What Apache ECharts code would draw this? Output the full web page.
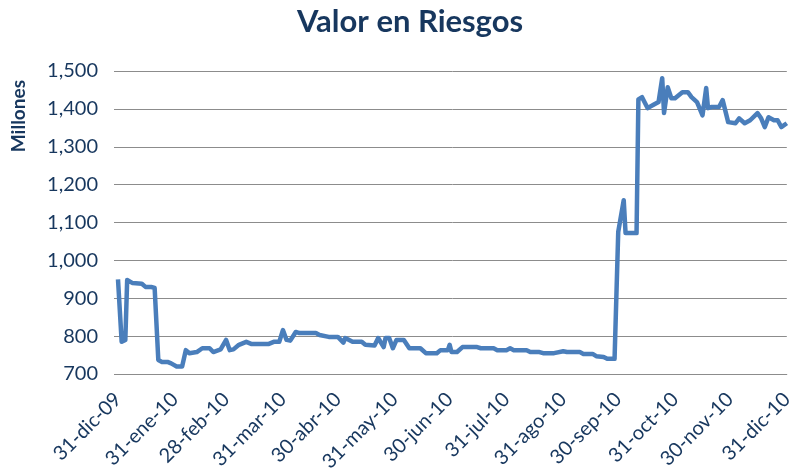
<!DOCTYPE html>
<html>
<head>
<meta charset="utf-8">
<script src="https://cdn.jsdelivr.net/npm/echarts@6/dist/echarts.min.js"></script>
<style>
  html, body { margin: 0; padding: 0; background: #fff; }
  #chart { width: 796px; height: 476px; }
</style>
</head>
<body>
<div id="chart"></div>
<script>
// día (desde 31-dic-09) y valor en millones
const dias = [0, 2, 4, 5, 8, 13, 15, 18, 20, 21, 22, 24, 27, 29, 32, 35, 37, 39, 43, 46,
  50, 52, 56, 59, 61, 63, 66, 70, 71, 73, 77, 80, 82, 85, 88, 90, 92, 94, 97, 99,
  108, 110, 115, 120, 123, 124, 128, 133, 135, 140, 142, 145, 146, 148, 150, 152, 156, 159, 165, 168,
  174, 176, 180, 181, 182, 185, 188, 196, 198, 205, 207, 212, 214, 216, 223, 225, 230, 232, 238, 239,
  243, 245, 252, 254, 259, 261, 265, 267, 271, 273, 274, 276, 277, 283, 284, 286, 289, 292, 295, 297,
  298, 300, 302, 304, 308, 311, 313, 316, 319, 321, 322, 324, 328, 330, 333, 337, 339, 342, 345, 349,
  351, 353, 355, 358, 360, 362, 365];
const valores = [950, 785, 790, 948, 940, 938, 930, 930, 927, 925, 737, 732, 732, 728, 720, 720, 763, 755, 758, 768,
  768, 758, 765, 790, 763, 765, 777, 785, 785, 779, 779, 779, 779, 785, 785, 816, 790, 788, 811, 808,
  808, 803, 798, 798, 783, 795, 785, 785, 777, 775, 795, 771, 795, 795, 768, 790, 790, 768, 768, 755,
  755, 763, 763, 777, 758, 758, 771, 771, 768, 768, 763, 763, 768, 763, 763, 758, 758, 755, 755, 750,
  760, 758, 758, 753, 753, 747, 745, 740, 740, 1075, 1080, 1159, 1072, 1072, 1425, 1431, 1402, 1410, 1418, 1481,
  1389, 1457, 1428, 1428, 1444, 1444, 1431, 1418, 1383, 1455, 1402, 1405, 1405, 1423, 1365, 1362, 1375, 1362, 1370, 1389,
  1375, 1352, 1378, 1370, 1370, 1352, 1362];
const meses = ['ene', 'feb', 'mar', 'abr', 'may', 'jun', 'jul', 'ago', 'sep', 'oct', 'nov', 'dic'];
const yMin = 700, yMax = 1500, yPaso = 100;

// categorías: un día cada una, del 31-dic-09 al 31-dic-10
const inicio = Date.UTC(2009, 11, 31);
const categorias = [];
const finDeMes = [];
for (let i = 0; i <= 365; i++) {
  const d = new Date(inicio + i * 86400000);
  const sig = new Date(inicio + (i + 1) * 86400000);
  categorias.push(d.getUTCDate() + '-' + meses[d.getUTCMonth()] + '-' + String(d.getUTCFullYear() % 100).padStart(2, '0'));
  finDeMes.push(sig.getUTCDate() === 1);
}
const serie = dias.map((d, i) => [d, valores[i]]);

const myChart = echarts.init(document.getElementById('chart'));
const azul = '#17375e';
const option = {
  backgroundColor: '#fff',
  title: {
    text: 'Valor en Riesgos',
    left: 405, top: 1, textAlign: 'center',
    textStyle: { fontFamily: 'Lato', fontWeight: 'bold', fontSize: 31, color: azul }
  },
  graphic: [{
    type: 'text',
    left: 9, top: 80,
    rotation: Math.PI / 2,
    style: { text: 'Millones', fontFamily: 'Lato', fontWeight: 'bold', fontSize: 19, fill: azul }
  }],
  grid: { left: 118, right: 4, top: 71, bottom: 102 },
  xAxis: {
    type: 'category',
    data: categorias,
    boundaryGap: false,
    axisLine: { lineStyle: { color: '#8c8c8c', width: 1 } },
    axisTick: { show: false },
    axisLabel: {
      interval: (i) => finDeMes[i],
      rotate: 45,
      margin: 22,
      fontFamily: 'Lato', fontSize: 20, color: azul
    },
    splitLine: { show: false }
  },
  yAxis: {
    type: 'value',
    min: yMin, max: yMax, interval: yPaso,
    axisLine: { show: false },
    axisTick: { show: true, length: 4, lineStyle: { color: '#8c8c8c' } },
    axisLabel: {
      margin: 20,
      fontFamily: 'Lato', fontSize: 20, color: azul,
      formatter: (v) => v.toLocaleString('en-US')
    },
    splitLine: { lineStyle: { color: '#8c8c8c', width: 1 } }
  },
  series: [{
    type: 'line',
    data: serie,
    showSymbol: false,
    lineStyle: { color: '#4a7ebb', width: 4.5, join: 'round' },
    itemStyle: { color: '#4a7ebb' },
    animation: false
  }]
};
myChart.setOption(option);
</script>
</body>
</html>
